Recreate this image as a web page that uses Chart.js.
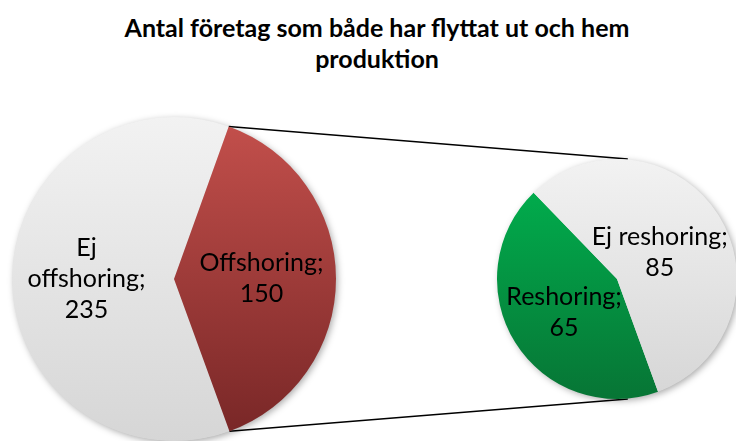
<!DOCTYPE html>
<html><head><meta charset="utf-8">
<script src="https://cdn.jsdelivr.net/npm/chart.js@4"></script>
<style>
html,body{margin:0;padding:0;background:#fff;overflow:hidden;width:736px;height:441px;position:relative}
#title{position:absolute;left:0;top:12px;width:754px;text-align:center;font:bold 25px Lato, "DejaVu Sans", sans-serif;line-height:31px;color:#000}
canvas{position:absolute}
</style></head><body>
<div id="title"></div>
<canvas id="lines" width="736" height="441" style="left:0;top:0"></canvas>
<canvas id="left" width="344" height="334" style="left:2px;top:107px"></canvas>
<canvas id="right" width="260" height="260" style="left:487px;top:149px"></canvas>
<script>
// ---- data ----
const titleLines = ['Antal företag som både har flyttat ut och hem', 'produktion'];
const offCategories = ['Ej offshoring', 'Offshoring'];
const offValues = [235, 150];
const reCategories = ['Reshoring', 'Ej reshoring'];
const reValues = [65, 85];

document.getElementById('title').innerHTML = titleLines.join('<br>');

function gradFill(pairs) {
  return (c) => {
    const chart = c.chart, a = chart.chartArea;
    const p = pairs[c.dataIndex];
    if (!a) return p[0];
    const g = chart.ctx.createLinearGradient(0, a.top, 0, a.bottom);
    g.addColorStop(0, p[0]); g.addColorStop(1, p[1]);
    return g;
  };
}

function wrap(ctx, text, maxW) {
  const words = text.split(' ');
  const out = []; let cur = '';
  words.forEach(w => {
    const t = cur ? cur + ' ' + w : w;
    if (cur && ctx.measureText(t).width > maxW) { out.push(cur); cur = w; } else cur = t;
  });
  if (cur) out.push(cur);
  return out;
}

const shadowPlugin = {
  id: 'pieShadow',
  beforeDatasetsDraw(chart) {
    const arc = chart.getDatasetMeta(0).data[0];
    const { x, y, outerRadius } = arc.getProps(['x', 'y', 'outerRadius'], true);
    const ctx = chart.ctx;
    ctx.save();
    ctx.shadowColor = 'rgba(0,0,0,0.35)';
    ctx.shadowBlur = 7; ctx.shadowOffsetX = 2; ctx.shadowOffsetY = 2;
    ctx.beginPath(); ctx.arc(x, y, outerRadius - 0.5, 0, Math.PI * 2);
    ctx.fillStyle = '#ddd'; ctx.fill();
    ctx.restore();
  }
};

const labelPlugin = {
  id: 'sliceLabels',
  afterDatasetsDraw(chart, args, opts) {
    const ctx = chart.ctx, meta = chart.getDatasetMeta(0), ds = chart.data.datasets[0];
    ctx.save();
    ctx.font = opts.font; ctx.fillStyle = '#000';
    ctx.textAlign = 'center'; ctx.textBaseline = 'middle';
    meta.data.forEach((arc, i) => {
      const { x, y, startAngle, endAngle, outerRadius } = arc.getProps(['x', 'y', 'startAngle', 'endAngle', 'outerRadius'], true);
      const mid = (startAngle + endAngle) / 2, f = opts.radial[i];
      const px = x + Math.cos(mid) * outerRadius * f, py = y + Math.sin(mid) * outerRadius * f;
      const lines = wrap(ctx, chart.data.labels[i] + ';', opts.maxWidth).concat([String(ds.data[i])]);
      const y0 = py - (lines.length - 1) * opts.lineHeight / 2;
      lines.forEach((t, k) => ctx.fillText(t, px, y0 + k * opts.lineHeight));
    });
    ctx.restore();
  }
};

const baseOpts = (pad, radial, maxWidth) => ({
  responsive: false, animation: false, rotation: 160,
  layout: { padding: pad },
  plugins: {
    legend: { display: false }, tooltip: { enabled: false }, title: { display: false },
    sliceLabels: { font: '25px Lato, sans-serif', lineHeight: 31, radial, maxWidth }
  }
});

const leftChart = new Chart(document.getElementById('left'), {
  type: 'pie',
  data: { labels: offCategories, datasets: [{ data: offValues, borderWidth: 0,
    backgroundColor: gradFill([['#f2f2f2', '#d6d6d6'], ['#c4504c', '#772626']]) }] },
  options: baseOpts({ left: 10, top: 10, right: 10, bottom: 0 }, [0.54, 0.54], 135),
  plugins: [shadowPlugin, labelPlugin]
});

const rightChart = new Chart(document.getElementById('right'), {
  type: 'pie',
  data: { labels: reCategories, datasets: [{ data: reValues, borderWidth: 0,
    backgroundColor: gradFill([['#00b450', '#077535'], ['#f2f2f2', '#d6d6d6']]) }] },
  options: baseOpts({ left: 10, top: 10, right: 10, bottom: 10 }, [0.52, 0.42], 160),
  plugins: [shadowPlugin, labelPlugin]
});

// connector lines
(function () {
  const lc = document.getElementById('left'), rc = document.getElementById('right');
  const a = leftChart.getDatasetMeta(0).data[1].getProps(['x', 'y', 'startAngle', 'endAngle', 'outerRadius'], true);
  const b = rightChart.getDatasetMeta(0).data[0].getProps(['x', 'y', 'outerRadius'], true);
  const lx = lc.offsetLeft, ly = lc.offsetTop, rx = rc.offsetLeft, ry = rc.offsetTop;
  const p1 = [lx + a.x + Math.cos(a.startAngle) * a.outerRadius, ly + a.y + Math.sin(a.startAngle) * a.outerRadius];
  const p2 = [lx + a.x + Math.cos(a.endAngle) * a.outerRadius, ly + a.y + Math.sin(a.endAngle) * a.outerRadius];
  const q1 = [rx + b.x + b.outerRadius * 0.09, ry + b.y - b.outerRadius];
  const q2 = [rx + b.x + b.outerRadius * 0.09, ry + b.y + b.outerRadius];
  const ctx = document.getElementById('lines').getContext('2d');
  ctx.strokeStyle = '#000'; ctx.lineWidth = 1.5;
  ctx.beginPath(); ctx.moveTo(p1[0], p1[1]); ctx.lineTo(q1[0], q1[1]);
  ctx.moveTo(p2[0], p2[1]); ctx.lineTo(q2[0], q2[1]); ctx.stroke();
})();
</script>
</body></html>
